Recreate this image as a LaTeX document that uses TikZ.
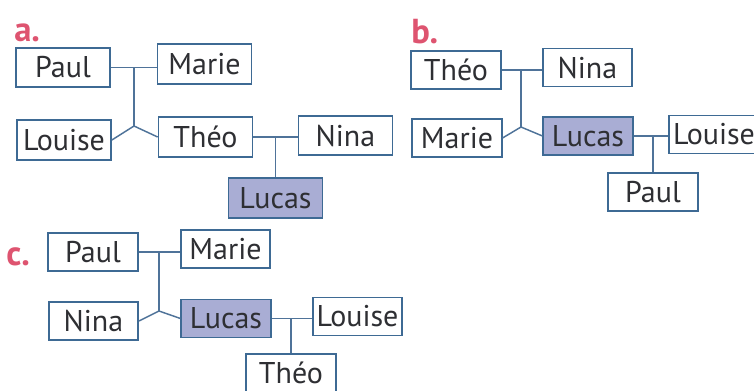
\documentclass[tikz,border=0pt]{standalone}
\usepackage{fontspec}
\setmainfont{PT Sans}
\definecolor{boxblue}{HTML}{3E6A94}
\definecolor{linkblue}{HTML}{4F7399}
\definecolor{lucasfill}{HTML}{A9ADD4}
\definecolor{inkgray}{HTML}{2E2F33}
\definecolor{tagred}{HTML}{DE5470}
\tikzset{
  person/.style={draw=boxblue, line width=1.3pt, fill=white, text=inkgray, minimum width=67pt, minimum height=28.5pt, inner sep=0pt, font=\fontsize{22.5}{26}\selectfont},
  lucasbox/.style={person, fill=lucasfill},
  link/.style={draw=linkblue, line width=1.1pt},
  tag/.style={text=tagred, font=\fontsize{26}{28}\selectfont\bfseries, inner sep=0pt, anchor=base west},
}
\begin{document}
\begin{tikzpicture}[x=0.75pt,y=0.75pt,yscale=-1,xscale=1]
    \useasboundingbox (0,0) rectangle (754,390);
    % a.
    \begin{scope}[person/.append style={minimum width=70.5pt, minimum height=29.5pt}]
    \node[tag] (tagA) at (14,41) {a.};
    \node[person] (paulA) at (63,67.5) {Paul};
    \node[person] (marieA) at (204.5,64) {Marie};
    \node[person] (louiseA) at (64,140) {Louise};
    \node[person] (theoA) at (205.5,137) {Théo};
    \node[person] (ninaA) at (345.5,135.5) {Nina};
    \node[lucasbox] (lucasA) at (275.5,198) {Lucas};
    \coordinate (joinA) at (134,126);
    \draw[link] (paulA.east) -- (paulA.east -| marieA.west);
    \draw[link] (joinA |- paulA.east) -- (joinA);
    \draw[link] (louiseA.east) -- (joinA) -- (theoA.west);
    \draw[link] (theoA.east) -- (theoA.east -| ninaA.west);
    \draw[link] (lucasA.north |- theoA.east) -- (lucasA.north);
    \end{scope}
    % b.
    \node[tag] (tagB) at (411,43) {b.};
    \node[person] (theoB) at (456,70) {Théo};
    \node[person] (ninaB) at (587.5,67.5) {Nina};
    \node[person] (marieB) at (457,138) {Marie};
    \node[lucasbox] (lucasB) at (588,136) {Lucas};
    \node[person] (louiseB) at (714,134.5) {Louise};
    \node[person] (paulB) at (653,192) {Paul};
    \coordinate (joinB) at (521,127);
    \draw[link] (theoB.east) -- (theoB.east -| ninaB.west);
    \draw[link] (joinB |- theoB.east) -- (joinB);
    \draw[link] (marieB.east) -- (joinB) -- (lucasB.west);
    \draw[link] (lucasB.east) -- (lucasB.east -| louiseB.west);
    \draw[link] (paulB.north |- lucasB.east) -- (paulB.north);
    % c.
    \node[tag] (tagC) at (6,265) {c.};
    \node[person] (paulC) at (93,252) {Paul};
    \node[person] (marieC) at (225.5,249) {Marie};
    \node[person] (ninaC) at (93.5,321) {Nina};
    \node[lucasbox] (lucasC) at (226,318.5) {Lucas};
    \node[person] (louiseC) at (357.5,316.5) {Louise};
    \node[person] (theoC) at (291,373) {Théo};
    \coordinate (joinC) at (159,311);
    \draw[link] (paulC.east) -- (paulC.east -| marieC.west);
    \draw[link] (joinC |- paulC.east) -- (joinC);
    \draw[link] (ninaC.east) -- (joinC) -- (lucasC.west);
    \draw[link] (lucasC.east) -- (lucasC.east -| louiseC.west);
    \draw[link] (theoC.north |- lucasC.east) -- (theoC.north);
\end{tikzpicture}
\end{document}
